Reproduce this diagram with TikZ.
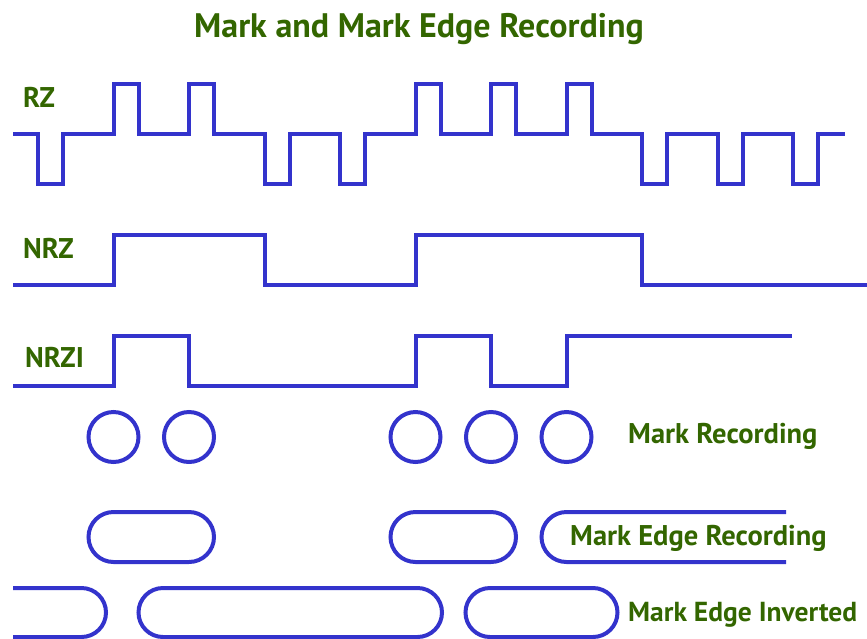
\documentclass[tikz,border=0pt]{standalone}
\usepackage{fontspec}
\setmainfont{PT Sans}
\usepackage{tikz}

\definecolor{waveblue}{RGB}{51,51,204}
\definecolor{labelgreen}{RGB}{51,102,0}

\tikzset{
  wave/.style={waveblue, line width=4pt},
  lbl/.style={labelgreen, anchor=base west, inner sep=0pt, font=\bfseries\fontsize{28.5}{32}\selectfont},
  ttl/.style={labelgreen, anchor=base, inner sep=0pt, font=\bfseries\fontsize{34}{38}\selectfont}
}

\begin{document}
\begin{tikzpicture}[x=1pt, y=-1pt]
\useasboundingbox (0,0) rectangle (867,638);
\node [ttl] (title) at (419,37) {Mark and Mark Edge Recording};
\node [lbl] (rz) at (23,107) {RZ};
\node [lbl] (nrz) at (23,258) {NRZ};
\node [lbl] (nrzi) at (25,367) {NRZI};
\node [lbl] (markrec) at (628,443) {Mark Recording};
\node [lbl] (edgerec) at (570,545) {Mark Edge Recording};
\node [lbl, font=\bfseries\fontsize{27.5}{32}\selectfont] (edgeinv) at (628,621) {Mark Edge Inverted};
\draw [wave] (13,134) -- (38,134) -- (38,183.5) -- (63,183.5) -- (63,134) -- (113.5,134) -- (113.5,84) -- (138.5,84) -- (138.5,134) -- (189,134) -- (189,84) -- (214,84) -- (214,134) -- (264.5,134) -- (264.5,183.5) -- (289.5,183.5) -- (289.5,134) -- (340,134) -- (340,183.5) -- (365,183.5) -- (365,134) -- (415.5,134) -- (415.5,84) -- (440.5,84) -- (440.5,134) -- (491,134) -- (491,84) -- (516,84) -- (516,134) -- (566.5,134) -- (566.5,84) -- (591.5,84) -- (591.5,134) -- (642,134) -- (642,183.5) -- (667,183.5) -- (667,134) -- (717.5,134) -- (717.5,183.5) -- (742.5,183.5) -- (742.5,134) -- (793,134) -- (793,183.5) -- (818,183.5) -- (818,134) -- (845,134);
\draw [wave] (13,285) -- (113.5,285) -- (113.5,235) -- (264.5,235) -- (264.5,285) -- (415.5,285) -- (415.5,235) -- (642,235) -- (642,285) -- (867,285);
\draw [wave] (13,386) -- (113.5,386) -- (113.5,335.5) -- (189,335.5) -- (189,386) -- (415.5,386) -- (415.5,335.5) -- (491,335.5) -- (491,386) -- (566.5,386) -- (566.5,335.5) -- (792,335.5);
\draw [wave] (113.5,437) circle (25);
\draw [wave] (189,437) circle (25);
\draw [wave] (415.5,437) circle (25);
\draw [wave] (491,437) circle (25);
\draw [wave] (566.5,437) circle (25);
\draw [wave, rounded corners=25] (88.5,512) rectangle (214,562);
\draw [wave, rounded corners=25] (390.5,512) rectangle (516,562);
\draw [wave, rounded corners=25] (786,512) -- (541.5,512) -- (541.5,562) -- (786,562);
\draw [wave, rounded corners=24.5] (13,588) -- (106,588) -- (106,637) -- (13,637);
\draw [wave, rounded corners=24.5] (138.5,588) rectangle (442,637);
\draw [wave, rounded corners=24.5] (465.5,588) rectangle (617.5,637);
\end{tikzpicture}
\end{document}
